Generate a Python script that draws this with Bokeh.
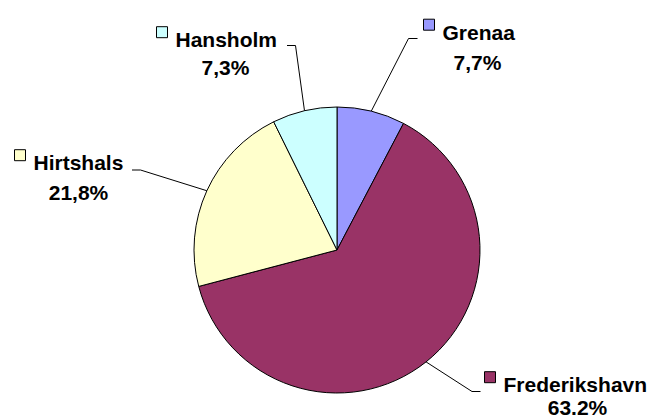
import math
from bokeh.plotting import figure
from bokeh.models import Range1d, ColumnDataSource
from bokeh.core.properties import value
from bokeh.embed import file_html
from bokeh.resources import INLINE

# ---- data ----
categories = ["Grenaa", "Frederikshavn", "Hirtshals", "Hansholm"]
shares = [7.7, 63.2, 21.8, 7.3]
pct_labels = ["7,7%", "63.2%", "21,8%", "7,3%"]
colors = ["#9999FF", "#993366", "#FFFFCC", "#CCFFFF"]

# ---- layout (reference pixel coordinates) ----
W, H = 655, 418
cx, cy, R = 336.5, 249.5, 143.0
label_x = [442, 503, 33, 175]
label_base = [31.5, 384, 162, 39]
pct_x = [477, 577, 78, 225]
pct_base = [61.5, 407, 191.5, 67]
elbow = [(408, 38), (471.5, 391), (140, 169.5), (295, 45)]
line_end = [(417, 38), (480, 391), (131.5, 169.5), (286.5, 45)]

def Y(y):
    return H - y

p = figure(width=W, height=H, output_backend="svg", toolbar_location=None,
           x_range=Range1d(0, W), y_range=Range1d(0, H), min_border=0)
p.axis.visible = False
p.grid.visible = False
p.outline_line_color = None
p.background_fill_color = "white"

total = sum(shares)
starts, ends, mids = [], [], []
cum = 0.0
for s in shares:
    a0 = math.pi / 2 - 2 * math.pi * cum / total
    cum += s
    a1 = math.pi / 2 - 2 * math.pi * cum / total
    starts.append(a0)
    ends.append(a1)
    mids.append((a0 + a1) / 2)

src = ColumnDataSource(dict(start=starts, end=ends, color=colors, cat=categories))
p.wedge(x=cx, y=Y(cy), radius=R, start_angle="start", end_angle="end",
        direction="clock", fill_color="color", line_color="black", line_width=1,
        source=src)

# leader lines
xs, ys = [], []
for i, m in enumerate(mids):
    sx = cx + R * math.cos(m)
    sy = Y(cy) + R * math.sin(m)
    xs.append([sx, elbow[i][0], line_end[i][0]])
    ys.append([sy, Y(elbow[i][1]), Y(line_end[i][1])])
p.multi_line(xs=xs, ys=ys, line_color="black", line_width=1)

# legend keys
p.rect(x=[lx - 13.5 for lx in label_x], y=[Y(b - 7.3) for b in label_base],
       width=11, height=11, fill_color=colors, line_color="black", line_width=1)

font = value("Liberation Sans")
p.text(x=label_x, y=[Y(b) for b in label_base], text=categories,
       text_font=font, text_font_style="bold", text_font_size="21px",
       text_align="left", text_baseline="alphabetic", text_color="black")
p.text(x=pct_x, y=[Y(b) for b in pct_base], text=pct_labels,
       text_font=font, text_font_style="bold", text_font_size="21px",
       text_align="center", text_baseline="alphabetic", text_color="black")

open("out.html", "w").write(file_html(p, INLINE))
